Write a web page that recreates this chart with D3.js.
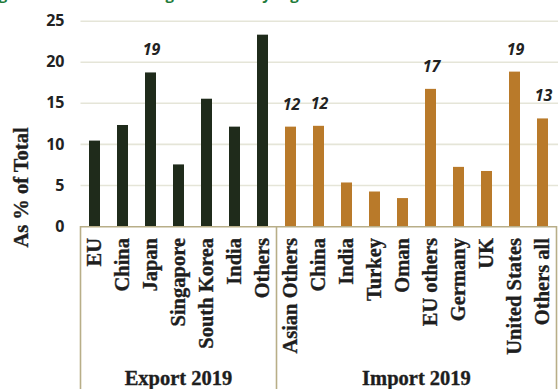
<!DOCTYPE html>
<html>
<head>
<meta charset="utf-8">
<script src="https://cdn.jsdelivr.net/npm/d3@7"></script>
<style>
  body { margin: 0; background: #fff; }
  svg { display: block; }
  .grid line { stroke: #e5e5d8; stroke-width: 1.6; }
  .grid .domain { display: none; }
  .yaxis text { font-family: "Open Sans", sans-serif; font-weight: 700; font-size: 16px; fill: #222; }
  .xaxis text { font-family: "Liberation Serif", "Times New Roman", serif; font-weight: 700; font-size: 20.5px; fill: #1e1e1e; stroke: #1e1e1e; stroke-width: 0.35px; }
  .xaxis .domain { display: none; }
  .box { stroke: #b8ae88; stroke-width: 1.6; fill: none; }
  .val { font-family: "Open Sans", sans-serif; font-weight: 700; font-style: italic; font-size: 16px; fill: #222; }
  .serif { font-family: "Liberation Serif", "Times New Roman", serif; font-weight: 700; font-size: 20.5px; fill: #1e1e1e; stroke: #1e1e1e; stroke-width: 0.35px; }
</style>
</head>
<body>
<script>
// data (% of total)
var exportCountries = ["EU", "China", "Japan", "Singapore", "South Korea", "India", "Others"];
var exportShares = [10.4, 12.3, 18.7, 7.5, 15.5, 12.1, 23.3];
var exportLabels = ["", "", "19", "", "", "", ""];

var importCountries = ["Asian Others", "China", "India", "Turkey", "Oman", "EU others", "Germany", "UK", "United States", "Others all"];
var importShares = [12.1, 12.2, 5.3, 4.2, 3.4, 16.7, 7.2, 6.7, 18.8, 13.1];
var importLabels = ["12", "12", "", "", "", "17", "", "", "19", "13"];

var groupNames = ["Export 2019", "Import 2019"];
var yTicks = [0, 5, 10, 15, 20, 25];

// build rows
var data = [];
exportCountries.forEach(function (c, i) {
    data.push({ key: "E|" + c, name: c, value: exportShares[i], label: exportLabels[i], group: 0 });
});
importCountries.forEach(function (c, i) {
    data.push({ key: "I|" + c, name: c, value: importShares[i], label: importLabels[i], group: 1 });
});

var W = 558, H = 389;
var plotLeft = 80.5, plotRight = 556.5, plotTop = 20.7, base = 226;

var svg = d3.select("body").append("svg")
    .attr("width", W)
    .attr("height", H);

var x = d3.scaleBand()
    .domain(data.map(function (d) { return d.key; }))
    .range([plotLeft, plotRight])
    .paddingInner(17 / 28)
    .paddingOuter(17 / 56);

var y = d3.scaleLinear().domain([0, 25]).range([base, plotTop]);

// clipped title above the chart
svg.append("text")
    .attr("x", -14)
    .attr("y", -0.5)
    .attr("fill", "#1e7b3a")
    .style("font-family", "Open Sans, sans-serif")
    .style("font-weight", 700)
    .style("font-size", "15px")
    .text("Figure 7: Share of trading countries by region");

// grid + y labels
var grid = svg.append("g")
    .attr("class", "grid yaxis")
    .attr("transform", "translate(" + plotLeft + ",0)")
    .call(d3.axisLeft(y).tickValues(yTicks).tickSize(-(W - plotLeft)).tickPadding(16));
grid.selectAll(".tick line").filter(function (d) { return d === 0; }).remove();

// bars
svg.selectAll(".bar")
    .data(data)
    .enter().append("rect")
    .attr("class", "bar")
    .attr("x", function (d) { return x(d.key); })
    .attr("width", x.bandwidth())
    .attr("y", function (d) { return y(d.value); })
    .attr("height", function (d) { return base - y(d.value); })
    .attr("fill", function (d) { return d.group === 0 ? "#1f2b1b" : "#b97a2a"; });

// value labels
svg.selectAll(".val")
    .data(data.filter(function (d) { return d.label; }))
    .enter().append("text")
    .attr("class", "val")
    .attr("x", function (d) { return x(d.key) + x.bandwidth() / 2 + 1; })
    .attr("y", function (d) { return y(d.value) - 17; })
    .attr("text-anchor", "middle")
    .text(function (d) { return d.label; });

// category axis
var xa = svg.append("g")
    .attr("class", "xaxis")
    .attr("transform", "translate(0," + base + ")")
    .call(d3.axisBottom(x).tickSize(0).tickFormat(function (k) { return k.split("|")[1]; }));
xa.selectAll("text")
    .attr("transform", "rotate(-90)")
    .attr("text-anchor", "end")
    .attr("x", -12)
    .attr("y", 0)
    .attr("dy", "0.3em");

// group box
var sep = x("I|" + importCountries[0]) - x.step() * x.paddingInner() / 2;
svg.append("path")
    .attr("class", "box")
    .attr("d", "M" + plotLeft + "," + H + "V" + (base + 0.8) + "H" + plotRight + "V" + H +
        "M" + sep + "," + (base + 0.8) + "V" + H);

svg.selectAll(".grp")
    .data(groupNames)
    .enter().append("text")
    .attr("class", "serif")
    .attr("x", function (d, i) { return i === 0 ? (plotLeft + sep) / 2 : (sep + plotRight) / 2; })
    .attr("y", 385)
    .attr("text-anchor", "middle")
    .text(function (d) { return d; });

// y title
svg.append("text")
    .attr("class", "serif")
    .attr("transform", "translate(27.5,187.5) rotate(-90)")
    .attr("text-anchor", "middle")
    .text("As % of Total");
</script>
</body>
</html>
